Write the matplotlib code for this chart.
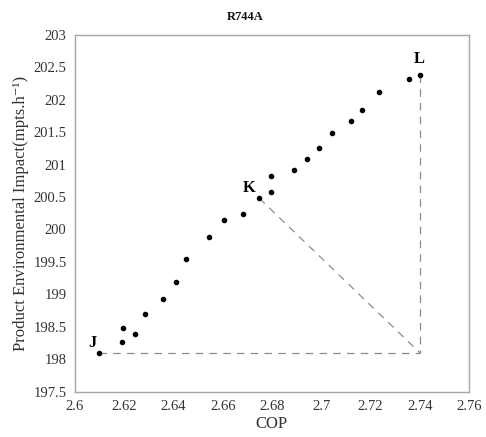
import matplotlib
matplotlib.use("Agg")
import matplotlib.pyplot as plt

# COP vs product environmental impact, R744A
cop = [2.610, 2.619, 2.6195, 2.6245, 2.6284, 2.6359, 2.6409, 2.6451, 2.6543,
       2.6605, 2.6681, 2.6749, 2.6796, 2.6797, 2.6891, 2.6941, 2.6992, 2.7042,
       2.712, 2.7166, 2.7236, 2.7356, 2.740]
impact = [198.10, 198.27, 198.48, 198.39, 198.70, 198.93, 199.19, 199.54, 199.89,
          200.14, 200.24, 200.48, 200.58, 200.83, 200.91, 201.08, 201.25, 201.49,
          201.67, 201.84, 202.12, 202.32, 202.38]

pt_J = (2.610, 198.10)
pt_K = (2.6749, 200.48)
pt_L = (2.740, 202.38)
corner = (2.740, 198.10)

xticks = [2.6, 2.62, 2.64, 2.66, 2.68, 2.7, 2.72, 2.74, 2.76]
xticklabels = ["2.6", "2.62", "2.64", "2.66", "2.68", "2.7", "2.72", "2.74", "2.76"]
yticks = [197.5, 198, 198.5, 199, 199.5, 200, 200.5, 201, 201.5, 202, 202.5, 203]
yticklabels = ["197.5", "198", "198.5", "199", "199.5", "200", "200.5", "201",
               "201.5", "202", "202.5", "203"]

plt.rcParams["font.family"] = ["Liberation Serif", "DejaVu Serif"]

fig = plt.figure(figsize=(4.86, 4.37), dpi=100)
ax = fig.add_axes([0.154, 0.104, 0.811, 0.816])

dash = dict(color="#8c8c8c", lw=0.9, ls=(0, (6, 5)))
ax.plot([pt_J[0], corner[0]], [pt_J[1], corner[1]], **dash)
ax.plot([pt_L[0], corner[0]], [pt_L[1], corner[1]], **dash)
ax.plot([pt_K[0], corner[0]], [pt_K[1], corner[1]], **dash)

ax.scatter(cop, impact, s=9, color="black", zorder=3)

ax.text(pt_J[0] - 0.0012, pt_J[1] + 0.02, "J", fontsize=12, fontweight="bold",
        ha="right", va="bottom")
ax.text(pt_K[0] - 0.0015, pt_K[1] + 0.03, "K", fontsize=12, fontweight="bold",
        ha="right", va="bottom")
ax.text(pt_L[0], pt_L[1] + 0.12, "L", fontsize=12, fontweight="bold",
        ha="center", va="bottom")

ax.set_xlim(2.6, 2.76)
ax.set_ylim(197.5, 203)
ax.set_xticks(xticks)
ax.set_xticklabels(xticklabels)
ax.set_yticks(yticks)
ax.set_yticklabels(yticklabels)
ax.tick_params(length=0, labelsize=10.5, colors="#333333", pad=6)

for s in ax.spines.values():
    s.set_color("#a6a6a6")
    s.set_linewidth(1.0)

ax.set_xlabel("COP", fontsize=12, color="#333333", labelpad=2)
ax.set_ylabel("Product Environmental Impact(mpts.h\u207b\u00b9)", fontsize=12,
              color="#333333", labelpad=3)
fig.text(0.504, 0.962, "R744A", fontsize=9, fontweight="bold", ha="center",
         va="center", color="#111111")

fig.savefig("out.png", dpi=100)
